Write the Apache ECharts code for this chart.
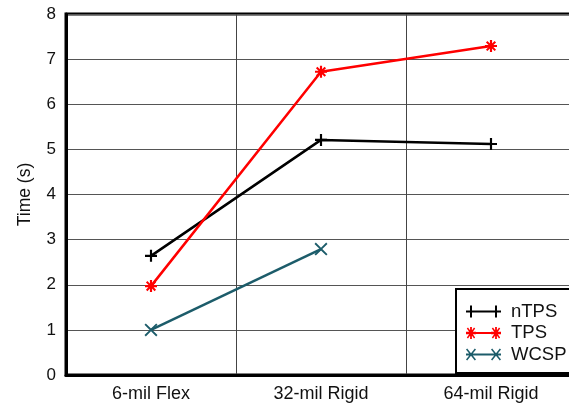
<!DOCTYPE html>
<html><head><meta charset="utf-8">
<script src="https://cdn.jsdelivr.net/npm/echarts@6/dist/echarts.min.js"></script>
<style>html,body{margin:0;padding:0;background:#fff}#c{width:569px;height:409px}</style>
</head><body><div id="c"></div>
<script>
var categories = ['6-mil Flex', '32-mil Rigid', '64-mil Rigid'];
var nTPS = [2.64, 5.21, 5.12];
var TPS = [1.97, 6.72, 7.29];
var WCSP = [1.0, 2.79, null];
var yTicks = [0, 1, 2, 3, 4, 5, 6, 7, 8];

var PLUS = 'path://M4.1,0 H5.9 V4.1 H10 V5.9 H5.9 V10 H4.1 V5.9 H0 V4.1 H4.1 Z';
var XS = 'path://M0,1 L1,0 L5,4 L9,0 L10,1 L6,5 L10,9 L9,10 L5,6 L1,10 L0,9 L4,5 Z';
var STAR = 'path://M4.1,0 H5.9 V4.1 H10 V5.9 H5.9 V10 H4.1 V5.9 H0 V4.1 H4.1 Z M0.8,2 L2,0.8 L5,3.8 L8,0.8 L9.2,2 L6.2,5 L9.2,8 L8,9.2 L5,6.2 L2,9.2 L0.8,8 L3.8,5 Z';

// legend icons: line with two markers (35 x 12 box)
var LEG_PLUS = 'path://M0,5 H35 V7 H0 Z M4,0 H6 V12 H4 Z M29,0 H31 V12 H29 Z';
var LEG_STAR = 'path://M0,5 H35 V7 H0 Z M4.1,0 H5.9 V12 H4.1 Z M0,4.8 H10 V7.2 H0 Z M0.8,1.5 L2,0.5 L9.2,10.5 L8,11.5 Z M8,0.5 L9.2,1.5 L2,11.5 L0.8,10.5 Z M29.1,0 H30.9 V12 H29.1 Z M25,4.8 H35 V7.2 H25 Z M25.8,1.5 L27,0.5 L34.2,10.5 L33,11.5 Z M33,0.5 L34.2,1.5 L27,11.5 L25.8,10.5 Z';
var LEG_X = 'path://M0,5 H35 V7 H0 Z M0,1 L1.2,0 L10,11 L8.8,12 Z M8.8,0 L10,1 L1.2,12 L0,11 Z M25,1 L26.2,0 L35,11 L33.8,12 Z M33.8,0 L35,1 L26.2,12 L25,11 Z';

var chart = echarts.init(document.getElementById('c'), null, {renderer: 'canvas'});
var font = 'Liberation Sans, Arial, Helvetica, sans-serif';
chart.setOption({
  animation: false,
  backgroundColor: '#fff',
  grid: {left: 66, top: 14, bottom: 34, width: 510, outerBoundsMode: 'none', containLabel: false,
         show: true, borderColor: '#000', borderWidth: 3, backgroundColor: 'transparent'},
  xAxis: {
    type: 'category', data: categories, boundaryGap: true,
    axisLine: {show: true, lineStyle: {color: '#000', width: 3}},
    axisTick: {show: false},
    axisLabel: {color: '#111', fontFamily: font, fontSize: 18, margin: 10},
    splitLine: {show: true, lineStyle: {color: '#444', width: 1}}
  },
  yAxis: {
    type: 'value', min: 0, max: 8, interval: 1,
    name: 'Time (s)', nameLocation: 'middle', nameGap: 32,
    nameTextStyle: {color: '#111', fontFamily: font, fontSize: 17.5},
    axisLine: {show: true, lineStyle: {color: '#000', width: 3}},
    axisTick: {show: false},
    axisLabel: {color: '#111', fontFamily: font, fontSize: 17, margin: 10, formatter: function (v) { return yTicks.indexOf(v) >= 0 ? String(v) : ''; }},
    splitLine: {show: true, lineStyle: {color: '#555', width: 1}}
  },
  legend: {
    orient: 'vertical', left: 456, top: 289,
    padding: [13, 40, 9, 10], itemGap: 2.5,
    itemWidth: 35, itemHeight: 12,
    backgroundColor: '#fff', borderColor: '#000', borderWidth: 2,
    textStyle: {color: '#111', fontFamily: font, fontSize: 18.5, padding: [0, 0, 0, 5]},
    data: [
      {name: 'nTPS', icon: LEG_PLUS},
      {name: 'TPS', icon: LEG_STAR},
      {name: 'WCSP', icon: LEG_X}
    ]
  },
  series: [
    {name: 'nTPS', type: 'line', data: nTPS, symbol: PLUS, symbolSize: 12, color: '#000',
     lineStyle: {width: 2.5, color: '#000'}, itemStyle: {color: '#000'}},
    {name: 'TPS', type: 'line', data: TPS, symbol: STAR, symbolSize: 12, color: '#ff0000',
     lineStyle: {width: 2.5, color: '#ff0000'}, itemStyle: {color: '#ff0000'}},
    {name: 'WCSP', type: 'line', data: WCSP, symbol: XS, symbolSize: 13, color: '#1c5c6a',
     lineStyle: {width: 2.5, color: '#1c5c6a'}, itemStyle: {color: '#1c5c6a'}}
  ]
});
</script></body></html>
